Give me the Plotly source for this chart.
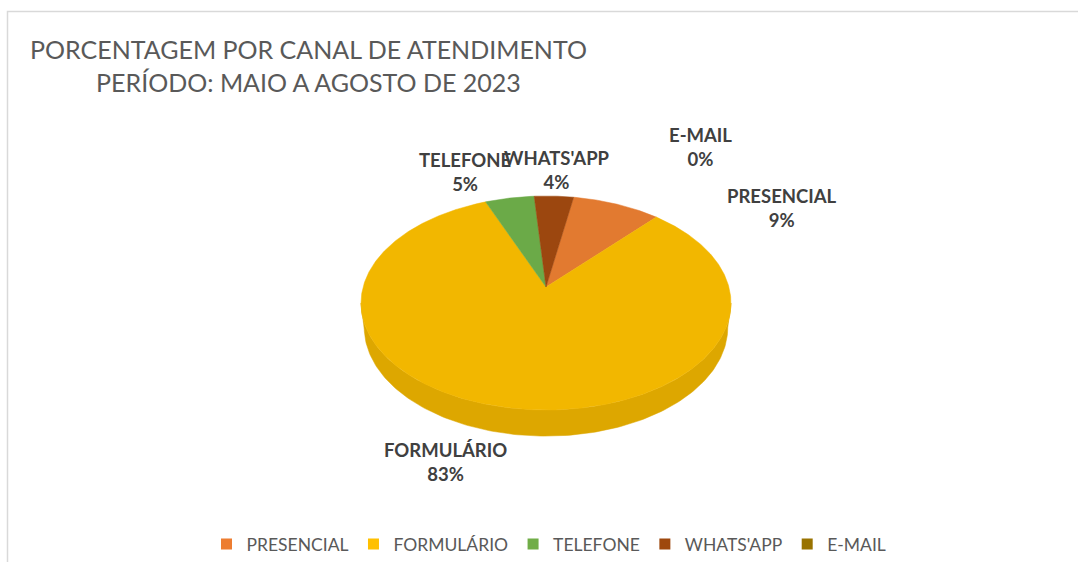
import numpy as np
import plotly.graph_objects as go

# ---------------- data ----------------
categories = ["PRESENCIAL", "FORMULÁRIO", "TELEFONE", "WHATS'APP", "E-MAIL"]
percent_values = [9, 83, 5, 4, 0]
legend_colors = ["#ED7D31", "#FFC000", "#70AD47", "#9E480E", "#997300"]
top_colors = ["#E27A30", "#F2B700", "#6BAA48", "#9C470F", "#997300"]
side_colors = ["#C76727", "#DDA700", "#5C9A3C", "#853C0C", "#7F6000"]

title_lines = ["PORCENTAGEM POR CANAL DE ATENDIMENTO", "PERÍODO: MAIO A AGOSTO DE 2023"]

# ---------------- layout / geometry (perspective 3-D pie) ----------------
W, H = 1078, 562
CX, APEX_Y = 546, 287          # projected centre of the disk
FOCAL, CAM_DIST = 1002.3, 5.48  # perspective camera
ELEV = np.arcsin(0.572)         # view elevation
THICK = 0.165                   # disk thickness (radius units)
START_ANGLE = 10
label_pos = {
    "PRESENCIAL": (782, 208),
    "FORMULÁRIO": (445, 462),
    "TELEFONE": (465, 172),
    "WHATS'APP": (557, 170),
    "E-MAIL": (700, 147),
}
FONT = "Lato"
S_E, C_E = np.sin(ELEV), np.cos(ELEV)


def proj(theta_deg, r=1.0, h=0.0):
    t = np.radians(theta_deg)
    X, Yw, Z = r * np.sin(t), -h, r * np.cos(t)
    y_up = Z * S_E + Yw * C_E
    depth = CAM_DIST + Z * C_E - Yw * S_E
    return CX + FOCAL * X / depth, APEX_Y - FOCAL * y_up / depth


total = float(sum(percent_values))
bounds = []
acc = START_ANGLE
for v in percent_values:
    span = 360.0 * v / total
    bounds.append((acc, acc + span))
    acc += span

# visible side: between silhouette tangents
k = C_E / CAM_DIST
t_sil = np.degrees(np.arccos(-k))

fig = go.Figure()

# side walls
for (s, e), col in zip(bounds, side_colors):
    if e <= s:
        continue
    for kk in (0, 1):
        lo = max(s, t_sil + 360 * kk)
        hi = min(e, 360 - t_sil + 360 * kk)
        if hi <= lo:
            continue
        th = np.linspace(lo, hi, 160)
        xt, yt = proj(th)
        xb, yb = proj(th[::-1], 1.0, THICK)
        xs = np.concatenate([xt, xb, xt[:1]])
        ys = np.concatenate([yt, yb, yt[:1]])
        fig.add_trace(go.Scatter(x=xs, y=ys, mode="lines", fill="toself",
                                 fillcolor=col, line=dict(color=col, width=0.5),
                                 hoverinfo="skip", showlegend=False))

# top faces
for (s, e), col, cat, v in zip(bounds, top_colors, categories, percent_values):
    if e <= s:
        continue
    th = np.linspace(s, e, max(int((e - s) * 2), 8))
    xr, yr = proj(th)
    x0, y0 = proj(0.0, 0.0)
    xs = np.concatenate([[x0], xr, [x0]])
    ys = np.concatenate([[y0], yr, [y0]])
    fig.add_trace(go.Scatter(x=xs, y=ys, mode="lines", fill="toself",
                             fillcolor=col, line=dict(color=col, width=0.5),
                             name=cat, hovertemplate=f"{cat}: {v}%<extra></extra>",
                             showlegend=False))

# legend entries
for cat, col in zip(categories, legend_colors):
    fig.add_trace(go.Scatter(x=[None], y=[None], mode="markers", name=cat,
                             marker=dict(symbol="square", size=11, color=col)))

# data labels
for cat, v in zip(categories, percent_values):
    x, y = label_pos[cat]
    fig.add_annotation(x=x, y=y, xref="x", yref="y", showarrow=False,
                       text=f"<b>{cat}</b><br><b>{v}%</b>", align="center",
                       font=dict(family=FONT, size=18.5, color="#404040"))

# title
fig.add_annotation(x=308.5, y=65, xref="x", yref="y", showarrow=False,
                   xanchor="center", yanchor="middle", align="center",
                   text="<br>".join(title_lines),
                   font=dict(family=FONT, size=25, color="#595959", weight=400))

# chart border
fig.add_shape(type="rect", xref="x", yref="y", x0=7.5, y0=11.5, x1=W + 20, y1=H + 20,
              line=dict(color="#D9D9D9", width=1.5), layer="below")

fig.update_layout(
    width=W, height=H,
    margin=dict(l=0, r=0, t=0, b=0),
    paper_bgcolor="white", plot_bgcolor="white",
    xaxis=dict(range=[0, W], visible=False, fixedrange=True),
    yaxis=dict(range=[H, 0], visible=False, fixedrange=True),
    legend=dict(orientation="h", x=549 / W, xanchor="center", y=0, yanchor="bottom",
                font=dict(family=FONT, size=17.5, color="#595959"),
                bgcolor="rgba(0,0,0,0)", itemwidth=30),
    showlegend=True,
)

fig.write_html(
    "out.html",
    config={"displayModeBar": False},
    post_script="document.body.style.margin='0';document.body.style.padding='0';",
)
